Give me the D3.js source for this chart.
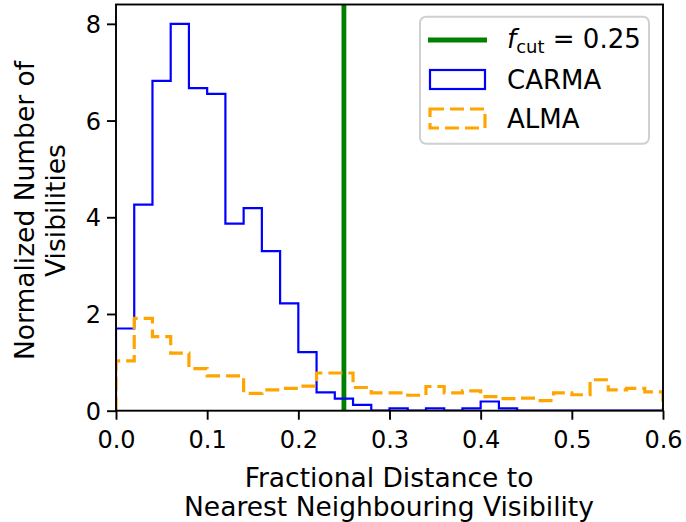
<!DOCTYPE html>
<html>
<head>
<meta charset="utf-8">
<script src="https://cdn.jsdelivr.net/npm/d3@7"></script>
<style>
  html, body { margin: 0; padding: 0; background: #fff; }
  svg { display: block; font-family: "DejaVu Sans", sans-serif; }
</style>
</head>
<body>
<svg id="chart" width="686" height="522"></svg>
<script>
// ---- data ----
const binEdges = [0.00, 0.02, 0.04, 0.06, 0.08, 0.10, 0.12, 0.14, 0.16, 0.18, 0.20,
                  0.22, 0.24, 0.26, 0.28, 0.30, 0.32, 0.34, 0.36, 0.38, 0.40,
                  0.42, 0.44, 0.46, 0.48, 0.50, 0.52, 0.54, 0.56, 0.58, 0.60];
const carmaValues = [1.70, 4.26, 6.82, 8.00, 6.67, 6.55, 3.87, 4.19, 3.30, 2.22,
                     1.21, 0.38, 0.25, 0.12, 0.00, 0.05, 0.00, 0.05, 0.00, 0.05,
                     0.19, 0.05, 0.00, 0.00, 0.00, 0.00, 0.00, 0.00, 0.00, 0.00];
const almaValues  = [1.03, 1.91, 1.53, 1.19, 0.87, 0.72, 0.72, 0.36, 0.43, 0.46,
                     0.51, 0.78, 0.78, 0.48, 0.37, 0.37, 0.32, 0.50, 0.37, 0.41,
                     0.29, 0.25, 0.26, 0.21, 0.37, 0.33, 0.64, 0.43, 0.46, 0.39];
const fCut = 0.25;
const xTicks = [0.0, 0.1, 0.2, 0.3, 0.4, 0.5, 0.6];
const yTicks = [0, 2, 4, 6, 8];
const xDomain = [0, 0.6];
const yDomain = [0, 8.4];

// ---- layout ----
const svg = d3.select("#chart");
const mLeft = 116, mRight = 663, mTop = 4.5, mBottom = 410.7;
const x = d3.scaleLinear().domain(xDomain).range([mLeft, mRight]);
const y = d3.scaleLinear().domain(yDomain).range([mBottom, mTop]);

svg.append("defs").append("clipPath").attr("id", "clip")
  .append("rect").attr("x", mLeft).attr("y", mTop)
  .attr("width", mRight - mLeft).attr("height", mBottom - mTop);

const plot = svg.append("g").attr("clip-path", "url(#clip)");

// step path for histogram
function stepPath(values) {
  const pts = [[binEdges[0], 0]];
  values.forEach((v, i) => {
    pts.push([binEdges[i], v]);
    pts.push([binEdges[i + 1], v]);
  });
  pts.push([binEdges[binEdges.length - 1], 0]);
  return d3.line().x(d => x(d[0])).y(d => y(d[1]))(pts);
}

// f_cut line
plot.append("line")
  .attr("x1", x(fCut)).attr("x2", x(fCut))
  .attr("y1", y(yDomain[0])).attr("y2", y(yDomain[1]))
  .attr("stroke", "#008000").attr("stroke-width", 4.8);

plot.append("path").attr("d", stepPath(carmaValues))
  .attr("fill", "none").attr("stroke", "#0000ff").attr("stroke-width", 2.2)
  .attr("stroke-linejoin", "miter");

plot.append("path").attr("d", stepPath(almaValues))
  .attr("fill", "none").attr("stroke", "#ffa500").attr("stroke-width", 3.2)
  .attr("stroke-dasharray", "14,6");

// axes
const xAxis = d3.axisBottom(x).tickValues(xTicks).tickFormat(d3.format(".1f"))
  .tickSize(9).tickPadding(6);
const yAxis = d3.axisLeft(y).tickValues(yTicks).tickFormat(d3.format("d"))
  .tickSize(9).tickPadding(6);

const gx = svg.append("g").attr("transform", `translate(0,${mBottom})`).call(xAxis);
const gy = svg.append("g").attr("transform", `translate(${mLeft},0)`).call(yAxis);
[gx, gy].forEach(g => {
  g.select(".domain").remove();
  g.selectAll(".tick line").attr("stroke", "#000").attr("stroke-width", 1.9);
  g.selectAll(".tick text").attr("fill", "#000").style("font-size", "24px")
    .style("font-family", "DejaVu Sans");
});
gx.selectAll(".tick text").attr("dy", "0.95em");
gy.selectAll(".tick text").attr("dy", "0.36em");

// frame
svg.append("rect").attr("x", mLeft).attr("y", mTop)
  .attr("width", mRight - mLeft).attr("height", mBottom - mTop)
  .attr("fill", "none").attr("stroke", "#000").attr("stroke-width", 1.9);

// axis labels
const xl = svg.append("text").attr("text-anchor", "middle")
  .style("font-size", "26.5px").attr("fill", "#000");
xl.append("tspan").attr("x", (mLeft + mRight) / 2 - 0.5).attr("y", 487).text("Fractional Distance to");
xl.append("tspan").attr("x", (mLeft + mRight) / 2 - 0.5).attr("y", 515.5).text("Nearest Neighbouring Visibility");

const yl = svg.append("text").attr("text-anchor", "middle")
  .attr("transform", `translate(0,210.5) rotate(-90)`)
  .style("font-size", "26.5px").attr("fill", "#000");
yl.append("tspan").attr("x", 0).attr("y", 33.5).text("Normalized Number of");
yl.append("tspan").attr("x", 0).attr("y", 65).text("Visibilities");

// legend
const lg = svg.append("g");
lg.append("rect").attr("x", 420).attr("y", 16.7).attr("width", 229).attr("height", 127)
  .attr("rx", 6).attr("fill", "#fff").attr("fill-opacity", 0.8)
  .attr("stroke", "#d0d0d0").attr("stroke-width", 2);

lg.append("line").attr("x1", 428).attr("x2", 487).attr("y1", 40).attr("y2", 40)
  .attr("stroke", "#008000").attr("stroke-width", 4.8);
lg.append("rect").attr("x", 430).attr("y", 70).attr("width", 55).attr("height", 19)
  .attr("fill", "none").attr("stroke", "#0000ff").attr("stroke-width", 2.2);
lg.append("rect").attr("x", 430).attr("y", 109).attr("width", 55).attr("height", 19)
  .attr("fill", "none").attr("stroke", "#ffa500").attr("stroke-width", 3.2)
  .attr("stroke-dasharray", "14,6");

const t1 = lg.append("text").attr("x", 507).attr("y", 48).style("font-size", "26px").attr("fill", "#000");
t1.append("tspan").style("font-style", "italic").text("f");
t1.append("tspan").attr("dy", 5).style("font-size", "18px").text("cut");
t1.append("tspan").attr("dy", -5).text(" = 0.25");
lg.append("text").attr("x", 507).attr("y", 89).style("font-size", "26px").attr("fill", "#000").text("CARMA");
lg.append("text").attr("x", 507).attr("y", 128).style("font-size", "26px").attr("fill", "#000").text("ALMA");
</script>
</body>
</html>
